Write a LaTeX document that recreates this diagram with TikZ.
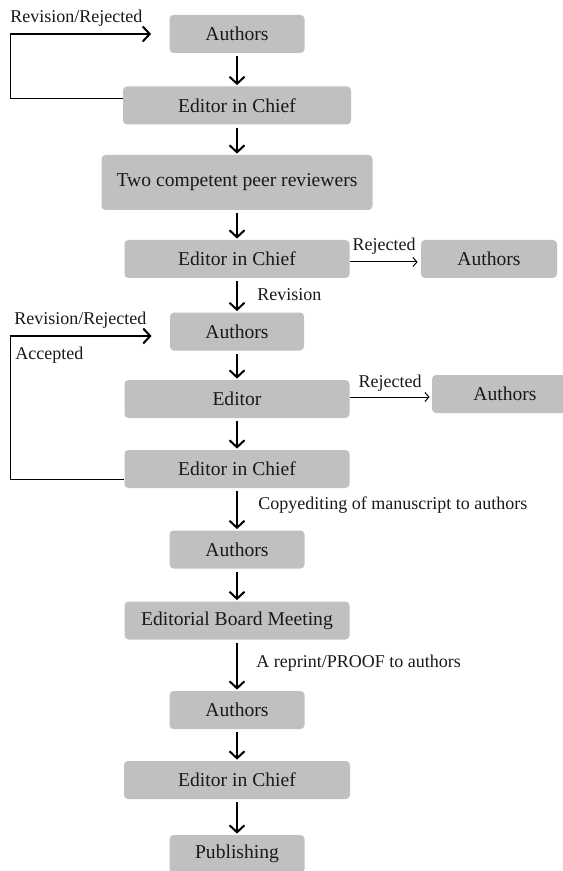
\documentclass[tikz,border=0pt]{standalone}
\usepackage{fontspec}
\setmainfont{Liberation Serif}
\usetikzlibrary{arrows.meta,positioning}
\definecolor{boxgray}{RGB}{192,192,192}
\definecolor{ink}{RGB}{25,25,25}

\begin{document}
\begin{tikzpicture}[x=0.5pt, y=-0.5pt,
  box/.style={fill=boxgray, rounded corners=2pt, inner sep=0pt, minimum height=19pt, text=ink, font=\rmfamily\fontsize{9.8}{11}\selectfont},
  lbl/.style={inner sep=0pt, text=ink, font=\rmfamily\fontsize{9}{11}\selectfont},
  flow/.style={line width=1pt, -{Straight Barb[length=3.5pt,width=7.5pt]}, shorten <=1.5pt, shorten >=0.5pt},
  side/.style={line width=0.5pt, -{Straight Barb[length=2pt,width=4.5pt]}},
  back/.style={line width=1pt, -{Straight Barb[length=3.5pt,width=7.5pt]}, shorten >=9pt}]

\useasboundingbox (0,0) rectangle (562,871);

% main chain
\node (auth1) [box, minimum width=67.5pt] at (237,34) {Authors};
\node (eic1) [box, minimum width=114pt, below of=auth1, node distance=35.75pt] {Editor in Chief};
\node (peer) [box, minimum width=135.5pt, minimum height=27.5pt, below of=eic1, node distance=38.5pt] {Two competent peer reviewers};
\node (eic2) [box, minimum width=112.5pt, below of=peer, node distance=38.25pt] {Editor in Chief};
\node (auth2) [box, minimum width=67pt, below of=eic2, node distance=36.25pt] {Authors};
\node (editor) [box, minimum width=112.5pt, below of=auth2, node distance=33.75pt] {Editor};
\node (eic3) [box, minimum width=112.5pt, below of=editor, node distance=35pt] {Editor in Chief};
\node (auth3) [box, minimum width=67.5pt, below of=eic3, node distance=40.25pt] {Authors};
\node (board) [box, minimum width=112.5pt, below of=auth3, node distance=35.5pt] {Editorial Board Meeting};
\node (auth4) [box, minimum width=67.5pt, below of=board, node distance=44.75pt] {Authors};
\node (eic4) [box, minimum width=113pt, below of=auth4, node distance=35pt] {Editor in Chief};
\node (publish) [box, minimum width=67.5pt, below of=eic4, node distance=37pt] {Publishing};

% rejected branches
\node (rej1) [box, minimum width=68pt, right of=eic2, node distance=126pt] {Authors};
\node (rej2) [box, minimum width=73pt, right of=editor, node distance=134pt, yshift=2.5pt] {Authors};

\draw[flow] (auth1) -- (eic1);
\draw[flow] (eic1) -- (peer);
\draw[flow] (peer) -- (eic2);
\draw[flow] (eic2) -- (auth2);
\draw[flow] (auth2) -- (editor);
\draw[flow] (editor) -- (eic3);
\draw[flow] (eic3) -- (auth3);
\draw[flow] (auth3) -- (board);
\draw[flow] (board) -- (auth4);
\draw[flow] (auth4) -- (eic4);
\draw[flow] (eic4) -- (publish);

\draw[side, shorten >=1.5pt] ([yshift=-1.5pt]eic2.east) -- ([yshift=-1.5pt]rej1.west);
\draw[side, shorten >=1pt] ([yshift=1pt]editor.east) -- ([yshift=1pt]editor.east -| rej2.west);

% loops back to the authors
\coordinate (turn1) at (10,34);
\coordinate (turn2) at (10,336);
\draw[line width=0.5pt] ([yshift=3.25pt]eic1.west) -| (turn1);
\draw[back] (turn1) -- (auth1);
\draw[line width=0.5pt] ([yshift=-5pt]eic3.west) -| (turn2);
\draw[back] (turn2) -- (turn2 -| auth2.west);

% labels
\node (looplbl1) [lbl, right] at (10,18) {Revision/Rejected};
\node (rejlbl1) [lbl] at (384,246) {Rejected};
\node (revlbl) [lbl, right] at (257,295) {Revision};
\node (looplbl2) [lbl, right] at (14,320) {Revision/Rejected};
\node (acclbl) [lbl, right] at (15,355) {Accepted};
\node (rejlbl2) [lbl] at (390,383) {Rejected};
\node (copylbl) [lbl, right] at (258,505) {Copyediting of manuscript to authors};
\node (prooflbl) [lbl, right] at (256,663) {A reprint/PROOF to authors};
\end{tikzpicture}
\end{document}
